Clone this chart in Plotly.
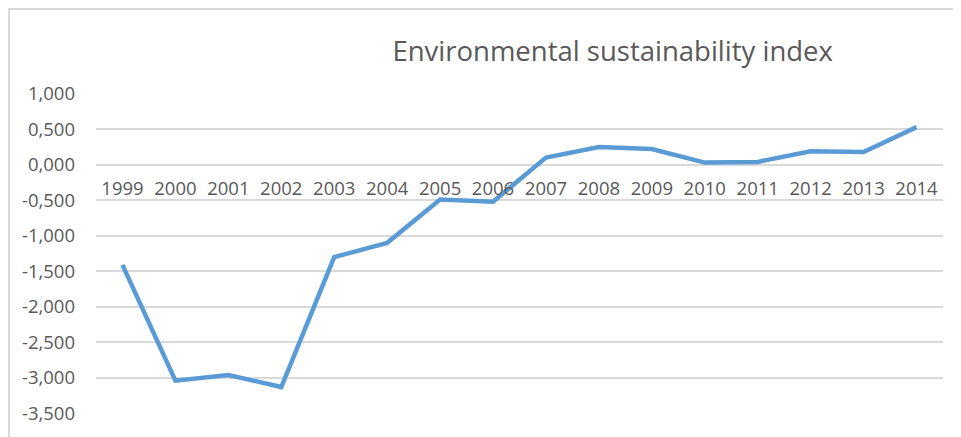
import plotly.graph_objects as go

years = ["1999", "2000", "2001", "2002", "2003", "2004", "2005", "2006",
         "2007", "2008", "2009", "2010", "2011", "2012", "2013", "2014"]
index_values = [-1.41, -3.04, -2.96, -3.13, -1.30, -1.10, -0.49, -0.52,
                0.10, 0.25, 0.22, 0.03, 0.04, 0.19, 0.18, 0.53]
y_tick_values = [1.0, 0.5, 0.0, -0.5, -1.0, -1.5, -2.0, -2.5, -3.0, -3.5]
y_tick_labels = ["1,000", "0,500", "0,000", "-0,500", "-1,000", "-1,500",
                 "-2,000", "-2,500", "-3,000", "-3,500"]
title_text = "Environmental sustainability index"

FONT = "Open Sans"
GRAY = "#595959"
GRID = "#d9d9d9"

y_min, y_max = -3.51, 1.01
positions = list(range(len(years)))

fig = go.Figure()
fig.add_trace(go.Scatter(
    x=positions, y=index_values, mode="lines",
    line=dict(color="#5B9BD5", width=4.5),
    hoverinfo="skip", showlegend=False,
))

# page body has an 8px margin, so the figure is 8px smaller and shifted
fig.update_layout(
    width=953, height=429,
    margin=dict(l=88, r=18, t=85, b=23),
    paper_bgcolor="white", plot_bgcolor="white",
    title=dict(text=title_text, x=0.6345, xanchor="center", y=0.9, yanchor="middle",
               font=dict(family=FONT, size=27.5, color=GRAY)),
    xaxis=dict(
        tickmode="array", tickvals=positions, ticktext=years,
        range=[-0.5, len(years) - 0.5],
        anchor="free", position=(0 - y_min) / (y_max - y_min),
        showgrid=False, zeroline=False, showline=False,
        ticks="", ticklabelstandoff=11,
        tickfont=dict(family=FONT, size=18.5, color=GRAY),
    ),
    yaxis=dict(
        tickmode="array", tickvals=y_tick_values, ticktext=y_tick_labels,
        range=[y_min, y_max],
        showgrid=True, gridcolor=GRID, gridwidth=1.5,
        zeroline=True, zerolinecolor=GRID, zerolinewidth=1.5,
        showline=False, ticks="", ticklabelstandoff=20,
        tickfont=dict(family=FONT, size=18.5, color=GRAY),
    ),
    shapes=[dict(type="rect", xref="paper", yref="paper",
                 x0=(9 - 96) / 847, x1=(975 - 96) / 847,
                 y0=-0.3, y1=1 + (93 - 9) / 321,
                 line=dict(color=GRID, width=2), fillcolor="rgba(0,0,0,0)",
                 layer="below")],
)

fig.write_html("out.html")
